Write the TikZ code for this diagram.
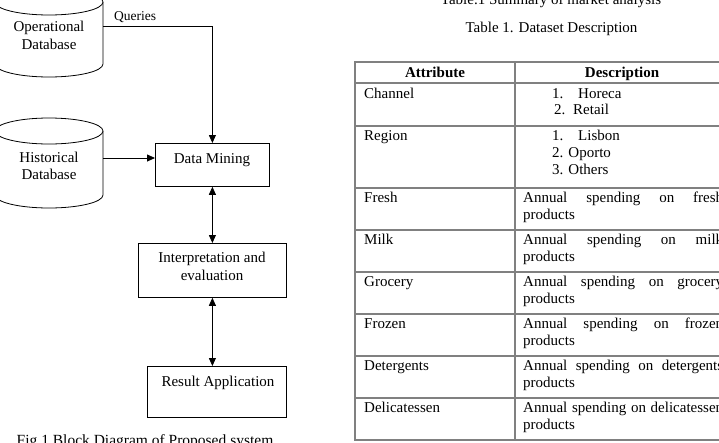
\documentclass[tikz,border=0pt]{standalone}
\usepackage{fontspec}
\setmainfont{Liberation Serif}
\usetikzlibrary{arrows.meta}
\begin{document}
\begin{tikzpicture}[x=1pt,y=-1pt,
  txt/.style={font=\fontsize{15}{17}\selectfont, inner sep=0pt, anchor=base west},
  ctxt/.style={font=\fontsize{15}{17}\selectfont, inner sep=0pt, anchor=base},
  htxt/.style={font=\fontsize{15}{17}\selectfont\bfseries, inner sep=0pt, anchor=base},
  qtxt/.style={font=\fontsize{13.5}{15}\selectfont, inner sep=0pt, anchor=base west},
  box/.style={draw, line width=0.8pt, inner sep=0pt, anchor=north west},
  cyl/.style={draw, line width=0.8pt, fill=white},
  conn/.style={line width=0.8pt, -{Triangle[length=8pt,width=7pt]}},
  dconn/.style={line width=0.8pt, {Triangle[length=8pt,width=7pt]}-{Triangle[length=8pt,width=7pt]}},
  gridline/.style={draw=black!50, line width=1.3pt}]
\useasboundingbox (0,0) rectangle (719,442);
\clip (0,0) rectangle (719,442);
\fill[white] (0,0) rectangle (719,442);

% ---- cylinders ----
\draw[cyl] (-5,2) -- (-5,64) arc[start angle=180, end angle=0, x radius=54, y radius=13] -- (103,2);
\draw[cyl] (49,2) ellipse [x radius=54, y radius=13];
\node[ctxt] (opt1) at (49,31) {Operational};
\node[ctxt] (opt2) at (49,49) {Database};
\coordinate (ope) at (103,26);

\draw[cyl] (-5,131) -- (-5,195) arc[start angle=180, end angle=0, x radius=54, y radius=13] -- (103,131);
\draw[cyl] (49,131) ellipse [x radius=54, y radius=13];
\node[ctxt] (hit1) at (49,162) {Historical};
\node[ctxt] (hit2) at (49,179) {Database};
\coordinate (hie) at (103,158);

% ---- boxes ----
\node[box, minimum width=114pt, minimum height=43pt] (dm) at (155,143) {};
\node[ctxt] (dmt) at (212,163) {Data Mining};
\node[box, minimum width=148pt, minimum height=54pt] (ie) at (138,243) {};
\node[ctxt] (iet1) at (212,262) {Interpretation and};
\node[ctxt] (iet2) at (212,280) {evaluation};
\node[box, minimum width=139pt, minimum height=51pt] (ra) at (147,366) {};
\node[ctxt] (rat) at (218,386) {Result Application};

% ---- connectors ----
\draw[conn] (ope) -- (dm.north |- ope) -- (dm.north);
\node[qtxt] (q) at (114,20) {Queries};
\draw[conn] (hie) -- (dm.west |- hie);
\draw[dconn] (dm.south) -- (ie.north);
\draw[dconn] (ie.south) -- (ie.south |- ra.north);

\node[ctxt, font=\fontsize{15.5}{17}\selectfont] (cap) at (145,445) {Fig 1 Block Diagram of Proposed system};

% ---- table ----
\node[ctxt] (tt0) at (551,4) {Table.1 Summary of market analysis};
\node[ctxt] (tt1) at (551.5,32) {Table 1. Dataset Description};
\draw[gridline] (355,62) rectangle (729,440);
\draw[gridline] (515,62) -- (515,440);
\foreach \yy in {83,126,188,230,272,314,356,398}
  \draw[gridline] (355,\yy) -- (729,\yy);
\node[htxt] (h1) at (435,77) {Attribute};
\node[htxt] (h2) at (622,77) {Description};

\node[txt] (a1) at (364,98) {Channel};
\node[txt] (c1n) at (552,98) {1.};
\node[txt] (c1t) at (578,98) {Horeca};
\node[txt] (c2n) at (554,114.5) {2.};
\node[txt] (c2t) at (573,114.5) {Retail};

\node[txt] (a2) at (364,140) {Region};
\node[txt] (r1n) at (552,140) {1.};
\node[txt] (r1t) at (578,140) {Lisbon};
\node[txt] (r2) at (552,157) {2. Oporto};
\node[txt] (r3) at (552,174) {3. Others};

\foreach \a/\d [count=\k from 0] in {Fresh/fresh, Milk/milk, Grocery/grocery, Frozen/frozen, Detergents/detergents, Delicatessen/delicatessen} {
  \node[txt] (attr\k) at (364,188+42*\k+14.5) {\a};
  \node[txt] (desca\k) at (523,188+42*\k+14.5) {\makebox[200pt][s]{Annual spending on \d}};
  \node[txt] (descb\k) at (523,188+42*\k+31.5) {products};
}
\end{tikzpicture}
\end{document}
